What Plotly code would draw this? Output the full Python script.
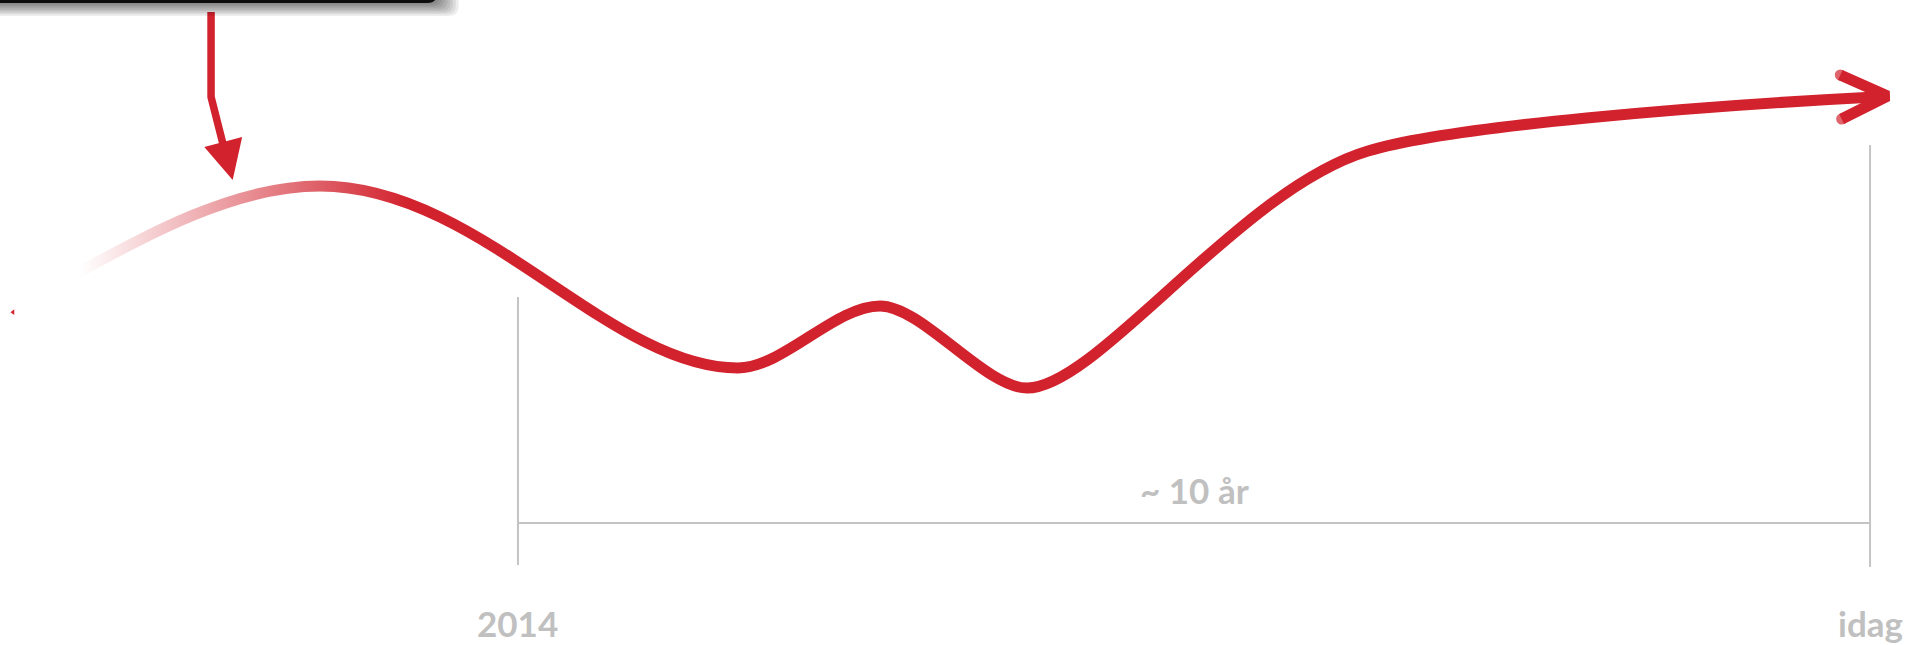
import plotly.graph_objects as go

RED = "#d2222d"
GREY = "#c4c4c4"
TEXT_GREY = "#c0c0c0"
FONT = "Lato, 'Open Sans', Arial, sans-serif"

# main development curve: x in years, y on a 0-100 "level" scale
# anchors (start, peak, dip, bump, dip, bend, end)
curve_year = [2010.538, 2012.536, 2015.627, 2016.678, 2017.765, 2020.287, 2024.037]
curve_level = [55.35, 71.16, 42.95, 52.56, 39.84, 76.59, 84.96]
# bezier handles, one pair per segment between anchors
handle_out_year = [2011.204, 2013.719, 2015.960, 2016.988, 2018.283, 2020.893]
handle_out_level = [62.95, 71.16, 42.95, 52.56, 39.84, 80.47]
handle_in_year = [2011.870, 2014.666, 2016.345, 2017.454, 2019.340, 2022.743]
handle_in_level = [71.16, 42.95, 52.56, 39.84, 70.70, 83.57]

# open chevron at the end of the curve
head_year = [2023.78, 2024.13, 2023.79]
head_level = [88.37, 85.12, 81.55]

# callout arrow pointing down at the curve
pointer_year = [2011.73, 2011.73, 2011.82]
pointer_level = [98.14, 84.96, 77.52]
pointer_tip_year = [2011.68, 2011.96, 2011.89]
pointer_tip_level = [77.21, 78.76, 72.09]

# fade-in area over the start of the curve
fade_year = [2010.354, 2010.354, 2011.988, 2011.988, 2013.349, 2013.349]
fade_level = [48.84, 70.54, 70.54, 74.42, 74.42, 48.84]

# time bracket
bracket_start = 2014
bracket_end = 2024
left_tick = [53.95, 12.40]
right_tick = [77.52, 12.09]
bracket_level = 18.91

labels = ["2014", "idag"]
label_year = [2014, 2024]
span_label = "~ 10 år"

fig = go.Figure()

# smooth curve as a bezier path in data coordinates
path = f"M {curve_year[0]},{curve_level[0]}"
for i in range(len(handle_out_year)):
    path += (f" C {handle_out_year[i]},{handle_out_level[i]}"
             f" {handle_in_year[i]},{handle_in_level[i]}"
             f" {curve_year[i + 1]},{curve_level[i + 1]}")
fig.add_shape(type="path", xref="x", yref="y", path=path, layer="below",
              line=dict(color=RED, width=11), fillcolor="rgba(0,0,0,0)")

fig.add_trace(go.Scatter(
    x=fade_year, y=fade_level, mode="none", fill="toself",
    fillgradient=dict(
        type="horizontal", start=2010.76, stop=2013.20,
        colorscale=[[0, "rgba(255,255,255,1)"], [1, "rgba(255,255,255,0)"]],
    ),
    hoverinfo="skip",
))
fig.add_trace(go.Scatter(
    x=head_year, y=head_level, mode="lines+markers",
    line=dict(color=RED, width=11),
    marker=dict(color=RED, size=[11, 0, 11], line=dict(width=0)),
    hoverinfo="skip",
))
fig.add_trace(go.Scatter(
    x=pointer_year, y=pointer_level, mode="lines",
    line=dict(color=RED, width=7.5), hoverinfo="skip",
))
fig.add_trace(go.Scatter(
    x=pointer_tip_year, y=pointer_tip_level, mode="none", fill="toself",
    fillcolor=RED, hoverinfo="skip",
))
fig.add_trace(go.Scatter(
    x=[2010.265], y=[51.6], mode="markers",
    marker=dict(symbol="triangle-left", size=5, color=RED, line=dict(width=0)),
    hoverinfo="skip",
))

for yr, span in [(bracket_start, left_tick), (bracket_end, right_tick)]:
    fig.add_trace(go.Scatter(
        x=[yr, yr], y=span, mode="lines",
        line=dict(color=GREY, width=2), hoverinfo="skip",
    ))
fig.add_trace(go.Scatter(
    x=[bracket_start, bracket_end], y=[bracket_level, bracket_level], mode="lines",
    line=dict(color=GREY, width=2), hoverinfo="skip",
))

# dark callout box cut off at the top, with a soft shadow
box_right, box_bottom = 2013.401, 99.535
for i in range(8, 0, -1):
    r = box_right + 0.02 * i
    b = box_bottom - 0.25 * i
    fig.add_shape(
        type="path", xref="x", yref="y", layer="above", line_width=0,
        fillcolor="rgba(0,0,0,0.07)",
        path=f"M 2009.9 103 L {r} 103 L {r} {b + 1.5} Q {r} {b} {r - 0.07} {b} L 2009.9 {b} Z",
    )
fig.add_shape(
    type="path", xref="x", yref="y", layer="above", line_width=0,
    fillcolor="#0d0d0d",
    path=f"M 2009.9 103 L {box_right} 103 L {box_right} {box_bottom + 1.5} "
         f"Q {box_right} {box_bottom} {box_right - 0.07} {box_bottom} L 2009.9 {box_bottom} Z",
)

for txt, yr in zip(labels, label_year):
    fig.add_annotation(
        x=yr, y=3.4, text=f"<b>{txt}</b>", showarrow=False,
        xanchor="center", yanchor="middle",
        font=dict(family=FONT, size=35, color=TEXT_GREY),
    )
fig.add_annotation(
    x=(bracket_start + bracket_end) / 2, y=24.0, text=f"<b>{span_label}</b>",
    showarrow=False, xanchor="center", yanchor="middle",
    font=dict(family=FONT, size=35, color=TEXT_GREY),
)

fig.update_layout(
    template="plotly_white",
    width=1906,
    height=645,
    paper_bgcolor="white",
    plot_bgcolor="white",
    margin=dict(l=0, r=0, t=0, b=0),
    showlegend=False,
)
fig.update_xaxes(range=[2010.169, 2024.266], visible=False, fixedrange=True)
fig.update_yaxes(range=[0, 100], visible=False, fixedrange=True)

fig.write_html(
    "out.html",
    config={"displayModeBar": False},
    post_script="document.body.style.margin='0';document.body.style.overflow='hidden';",
)
